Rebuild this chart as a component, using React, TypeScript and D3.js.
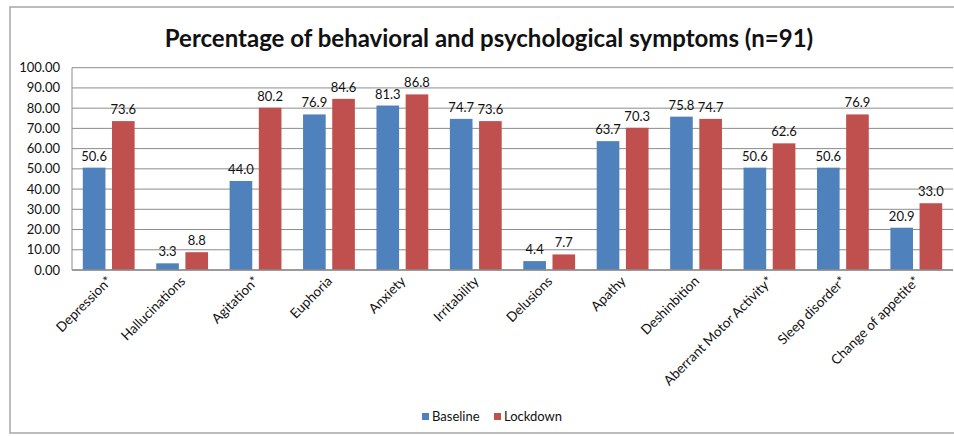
import React from "react";
import * as d3 from "d3";

const categories = ["Depression*", "Hallucinations", "Agitation*", "Euphoria", "Anxiety", "Irritability", "Delusions", "Apathy", "Deshinbition", "Aberrant Motor Activity*", "Sleep disorder*", "Change of appetite*"];
const baseline = [50.6, 3.3, 44.0, 76.9, 81.3, 74.7, 4.4, 63.7, 75.8, 50.6, 50.6, 20.9];
const lockdown = [73.6, 8.8, 80.2, 84.6, 86.8, 73.6, 7.7, 70.3, 74.7, 62.6, 76.9, 33.0];
const yTicks = [0, 10, 20, 30, 40, 50, 60, 70, 80, 90, 100];
const seriesNames = ["Baseline", "Lockdown"];
const colors = ["#4F81BD", "#C0504D"];

const W = 954, H = 436;
const plot = { left: 72, right: 953, top: 67.7, bottom: 270 };
const FONT = "Lato, 'Liberation Sans', sans-serif";

export default function App() {
  const x = d3.scaleBand<string>().domain(categories).range([plot.left, plot.right]).paddingInner(0).paddingOuter(0);
  const bw = x.bandwidth();
  const sub = d3.scaleBand<number>().domain([0, 1]).range([0, bw]).paddingInner(0.2245).paddingOuter(0.37);
  const y = d3.scaleLinear().domain([0, 100]).range([plot.bottom, plot.top]);
  const series = [baseline, lockdown];

  return (
    <svg width={W} height={H} style={{ position: "absolute", left: 0, top: 0, background: "#fff" }} fontFamily={FONT}>
      <rect x={0} y={0} width={W} height={H} fill="#fff" />
      <rect x={10} y={7} width={W} height={426} fill="none" stroke="#a6a6a6" strokeWidth={1.5} />
      <text x={489} y={47} textAnchor="middle" fontSize={24} fontWeight={700} fill="#111">
        Percentage of behavioral and psychological symptoms (n=91)
      </text>
      {yTicks.map((t) => (
        <g key={t}>
          <line x1={plot.left} x2={plot.right} y1={y(t)} y2={y(t)} stroke="#8c8c8c" strokeWidth={1} />
          <text x={60} y={y(t)} dy="0.35em" textAnchor="end" fontSize={13} fill="#111">
            {d3.format(".2f")(t)}
          </text>
        </g>
      ))}
      <line x1={plot.left} x2={plot.left} y1={plot.top} y2={plot.bottom} stroke="#8c8c8c" />
      {categories.map((c, i) => (
        <g key={c}>
          {series.map((s, k) => {
            const bx = (x(c) as number) + (sub(k) as number);
            return (
              <g key={k}>
                <rect x={bx} y={y(s[i])} width={sub.bandwidth()} height={plot.bottom - y(s[i])} fill={colors[k]} />
                <text x={bx + sub.bandwidth() / 2} y={y(s[i]) - 7} textAnchor="middle" fontSize={13} fill="#111">
                  {d3.format(".1f")(s[i])}
                </text>
              </g>
            );
          })}
          <text
            transform={`translate(${(x(c) as number) + bw / 2 + 4},${plot.bottom + 12}) rotate(-45)`}
            textAnchor="end"
            fontSize={13.5}
            fill="#111"
          >
            {c}
          </text>
        </g>
      ))}
      <line x1={plot.left} x2={plot.right} y1={plot.bottom} y2={plot.bottom} stroke="#8c8c8c" strokeWidth={1.5} />
      {seriesNames.map((n, k) => {
        const lx = [422, 494][k];
        return (
          <g key={n}>
            <rect x={lx} y={413} width={7} height={7} fill={colors[k]} />
            <text x={lx + 10} y={420.5} fontSize={13} fill="#111">{n}</text>
          </g>
        );
      })}
    </svg>
  );
}
